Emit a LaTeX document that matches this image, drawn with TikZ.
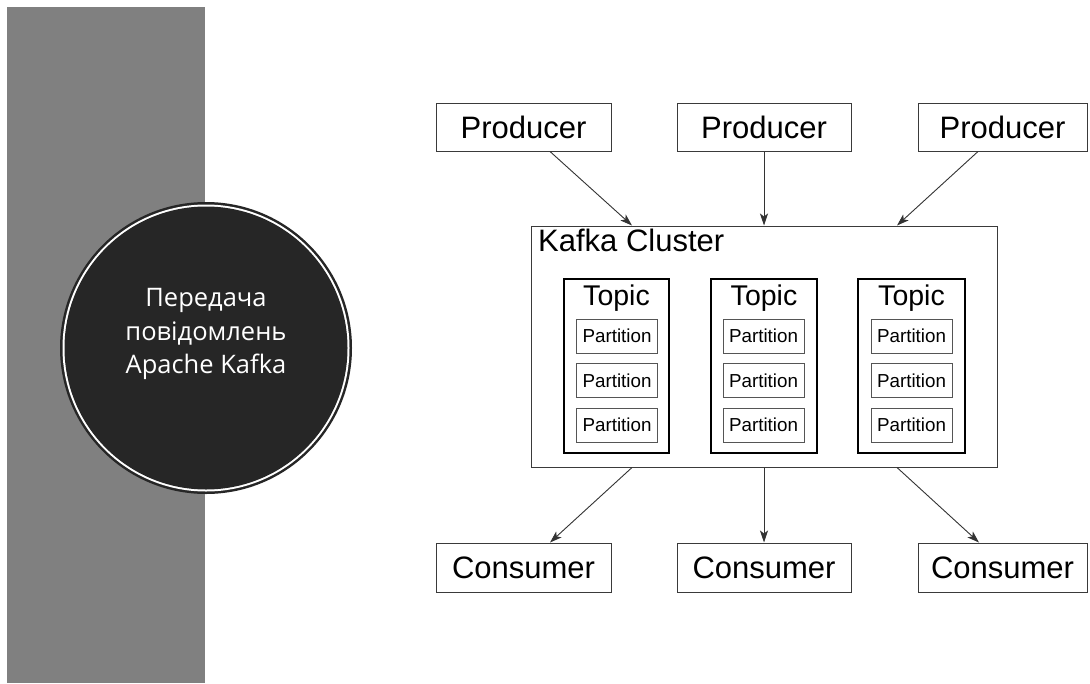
\documentclass[tikz,border=0pt]{standalone}
\usepackage{fontspec}
\setmainfont{Liberation Sans}
\newfontfamily\circfont{Open Sans}
\usetikzlibrary{arrows.meta,calc}
\definecolor{bandgray}{HTML}{808080}
\definecolor{circfill}{HTML}{262626}
\definecolor{boxline}{HTML}{3A3A3A}
\definecolor{partline}{HTML}{555555}
\tikzset{
  box/.style={draw=boxline,line width=1pt,fill=white,inner sep=0pt,minimum height=48pt},
  bigtext/.style={font=\fontsize{31}{31}\selectfont},
  topicbox/.style={draw=black,line width=1.3pt,inner sep=0pt,minimum height=174pt},
  partbox/.style={draw=partline,line width=1pt,inner sep=0pt,minimum width=81pt,minimum height=34pt,font=\fontsize{18.8}{18.8}\selectfont},
  flow/.style={draw=black!80,line width=0.9pt,-{Stealth[length=12pt,width=8pt,inset=3pt]}},
}
\begin{document}
\begin{tikzpicture}[x=1pt,y=-1pt]
\useasboundingbox (0,0) rectangle (1090,683);
\fill[white] (0,0) rectangle (1090,683);
% left band
\fill[bandgray] (7,7) rectangle (205,683);
% circle
\node[circle,fill=black!85,minimum size=292pt,inner sep=0pt] (circ) at (206,348) {};
\fill[white] (circ.center) circle (143.5);
\fill[circfill] (circ.center) circle (141.5);
\node[text=white,align=center,font=\circfont\fontsize{25.5}{33.5}\selectfont] (title) at (206,334) {Передача\\повідомлень\\Apache Kafka};
% producers
\node[box,bigtext,minimum width=175pt] (p1) at (523.5,127) {Producer};
\node[box,bigtext,minimum width=174pt] (p2) at (764,127) {Producer};
\node[box,bigtext,minimum width=169pt] (p3) at (1002.5,127) {Producer};
% consumers
\node[box,bigtext,minimum width=175pt,minimum height=49pt] (c1) at (523.5,567.5) {Consumer};
\node[box,bigtext,minimum width=174pt,minimum height=49pt] (c2) at (764,567.5) {Consumer};
\node[box,bigtext,minimum width=169pt,minimum height=49pt] (c3) at (1002.5,567.5) {Consumer};
% cluster
\node[draw=boxline,line width=1pt,inner sep=0pt,minimum width=466pt,minimum height=241pt] (cl) at (764,346.5) {};
\node[anchor=base west,bigtext,inner sep=0pt] (cltext) at (538,251) {Kafka Cluster};
% topics
\foreach \i/\x/\w/\px in {1/616.5/105/617,2/764/106/763.5,3/911.5/107/911.5}{
  \node[topicbox,minimum width=\w pt] (t\i) at (\x,366) {};
  \node[anchor=base,inner sep=0pt,font=\fontsize{28.5}{28.5}\selectfont] (tl\i) at (\x,305) {Topic};
  \node[partbox] (t\i p1) at (\px,336) {Partition};
  \node[partbox] (t\i p2) at (\px,380.5) {Partition};
  \node[partbox] (t\i p3) at (\px,425) {Partition};
}
% connectors
\coordinate (a1s) at ($(p1.south)+(26.5,0)$);
\coordinate (a1e) at ($(cl.north)+(-132,0)$);
\coordinate (a3s) at ($(p3.south)+(-24.5,0)$);
\coordinate (a3e) at ($(cl.north)+(133,0)$);
\coordinate (b1s) at ($(cl.south)+(-132,0)$);
\coordinate (b1e) at ($(c1.north)+(26.5,0)$);
\coordinate (b3s) at ($(cl.south)+(133,0)$);
\coordinate (b3e) at ($(c3.north)+(-23.5,0)$);
\draw[flow] (a1s) -- (a1e);
\draw[flow] (p2.south) -- (cl.north);
\draw[flow] (a3s) -- (a3e);
\draw[flow] (b1s) -- (b1e);
\draw[flow] (cl.south) -- (c2.north);
\draw[flow] (b3s) -- (b3e);
\end{tikzpicture}
\end{document}
